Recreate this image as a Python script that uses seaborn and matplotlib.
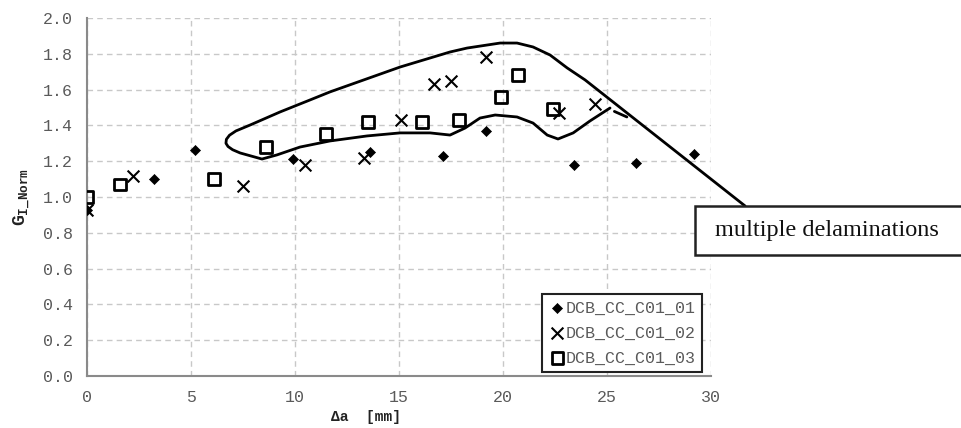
"""
Normalised fracture toughness G_I vs crack extension for three DCB specimens.
"""
import matplotlib
matplotlib.use("Agg")
import matplotlib.pyplot as plt
from matplotlib.markers import MarkerStyle
from matplotlib.patches import Rectangle
import pandas as pd
import seaborn as sns

# DCB_CC_C01_01 (filled diamonds)
da_01 = [0.0, 3.2, 5.2, 9.9, 13.6, 17.1, 19.2, 23.4, 26.4, 29.2]
g_01 = [0.93, 1.10, 1.26, 1.21, 1.25, 1.23, 1.37, 1.18, 1.19, 1.24]
# DCB_CC_C01_02 (crosses)
da_02 = [0.0, 2.2, 7.5, 10.5, 13.3, 15.1, 16.7, 17.5, 19.2, 22.7, 24.4]
g_02 = [0.93, 1.12, 1.06, 1.18, 1.22, 1.43, 1.63, 1.65, 1.78, 1.47, 1.52]
# DCB_CC_C01_03 (open squares)
da_03 = [0.0, 1.6, 6.1, 8.6, 11.5, 13.5, 16.1, 17.9, 19.9, 20.7, 22.4]
g_03 = [1.0, 1.07, 1.10, 1.28, 1.35, 1.42, 1.42, 1.43, 1.56, 1.68, 1.49]

series_names = ["DCB_CC_C01_01", "DCB_CC_C01_02", "DCB_CC_C01_03"]

# hand drawn outline around the "multiple delaminations" region (data coords)
outline_x = [31.63, 23.94, 23.08, 22.26, 21.44, 20.67, 19.86, 18.27, 17.45, 15.05,
             11.68, 10.72, 9.28, 7.84, 7.16, 6.85, 6.70, 6.68, 6.78, 7.00, 7.36,
             8.41, 9.13, 10.24, 11.68, 13.46, 15.05, 16.49, 17.45, 18.17, 18.89,
             19.62, 20.67, 21.44, 22.12, 22.64, 23.37, 24.18, 25.14]
outline_y = [0.950, 1.654, 1.721, 1.793, 1.838, 1.860, 1.860, 1.832, 1.810, 1.726,
             1.587, 1.542, 1.475, 1.402, 1.369, 1.345, 1.322, 1.300, 1.282, 1.264,
             1.246, 1.212, 1.235, 1.279, 1.313, 1.341, 1.358, 1.358, 1.346, 1.385,
             1.441, 1.458, 1.447, 1.413, 1.346, 1.324, 1.358, 1.425, 1.497]
tick_x = [25.35, 25.95]
tick_y = [1.478, 1.447]

annotation_text = "multiple delaminations"

x_ticks = [0, 5, 10, 15, 20, 25, 30]
y_ticks = [0.0, 0.2, 0.4, 0.6, 0.8, 1.0, 1.2, 1.4, 1.6, 1.8, 2.0]

sns.set_theme(style="whitegrid")
plt.rcParams["font.family"] = ["Liberation Mono", "DejaVu Sans Mono"]
plt.rcParams["mathtext.fontset"] = "custom"
plt.rcParams["mathtext.rm"] = "Liberation Mono"
plt.rcParams["mathtext.bf"] = "Liberation Mono:bold"

df = pd.concat([
    pd.DataFrame({"da": da_01, "g": g_01, "specimen": series_names[0]}),
    pd.DataFrame({"da": da_02, "g": g_02, "specimen": series_names[1]}),
    pd.DataFrame({"da": da_03, "g": g_03, "specimen": series_names[2]}),
])

fig = plt.figure(figsize=(9.61, 4.28), dpi=100)
ax = fig.add_axes([0.0905, 0.1215, 0.6495, 0.8365])
ax.set_facecolor("white")

styles = {
    series_names[0]: dict(marker="D", s=26, color="black", edgecolor="black", linewidth=0.5),
    series_names[1]: dict(marker="x", s=72, color="black", linewidth=1.5),
    series_names[2]: dict(marker=MarkerStyle("s", fillstyle="none"), s=72, color="black", linewidth=2.0),
}
for name in series_names:
    sub = df[df["specimen"] == name]
    sns.scatterplot(data=sub, x="da", y="g", ax=ax, label=name, zorder=3, **styles[name])

ax.plot(outline_x, outline_y, color="black", lw=2, solid_joinstyle="round",
        solid_capstyle="round", clip_on=False, zorder=4)
ax.plot(tick_x, tick_y, color="black", lw=2, clip_on=False, zorder=4)

ax.set_xlim(0, 30)
ax.set_ylim(0, 2.0)
ax.set_xticks(x_ticks)
ax.set_yticks(y_ticks)
ax.set_yticklabels([f"{v:.1f}" for v in y_ticks])
ax.tick_params(axis="both", labelsize=12, labelcolor="#5a5a5a", colors="#8a8a8a",
               direction="out", length=4, width=1.2, pad=6)
ax.tick_params(axis="x", labelcolor="#5a5a5a")

ax.grid(True, linestyle=(0, (4, 3)), color="#c8c8c8", linewidth=1)
ax.set_axisbelow(True)
for side in ["top", "right"]:
    ax.spines[side].set_visible(False)
for side in ["left", "bottom"]:
    ax.spines[side].set_color("#8a8a8a")
    ax.spines[side].set_linewidth(1.5)

ax.set_xlabel("Δa  [mm]", fontsize=10.5, fontweight="bold", color="#222222")
ax.xaxis.set_label_coords(0.447, -0.095)
ax.set_ylabel(r"$\mathbf{G_{I\_Norm}}$", fontsize=13, color="#222222")
ax.yaxis.set_label_coords(-0.088, 0.5)

leg = ax.legend(loc="lower right", bbox_to_anchor=(0.986, 0.011), borderaxespad=0,
                fancybox=False, framealpha=1, edgecolor="#222222", handletextpad=0.0,
                borderpad=0.4, labelspacing=0.6, handlelength=1.0, fontsize=12,
                labelcolor="#5a5a5a")
leg.get_frame().set_linewidth(1.5)

# text box with the annotation, sticking out past the right edge
fig.add_artist(Rectangle((0.7232, 0.4042), 0.35, 0.1145, transform=fig.transFigure,
                         facecolor="white", edgecolor="#222222", linewidth=1.8, clip_on=False))
fig.text(0.744, 0.462, annotation_text, fontsize=17.5, family="Liberation Serif",
         color="#111111", va="center", ha="left")

fig.savefig("out.png", dpi=100)
